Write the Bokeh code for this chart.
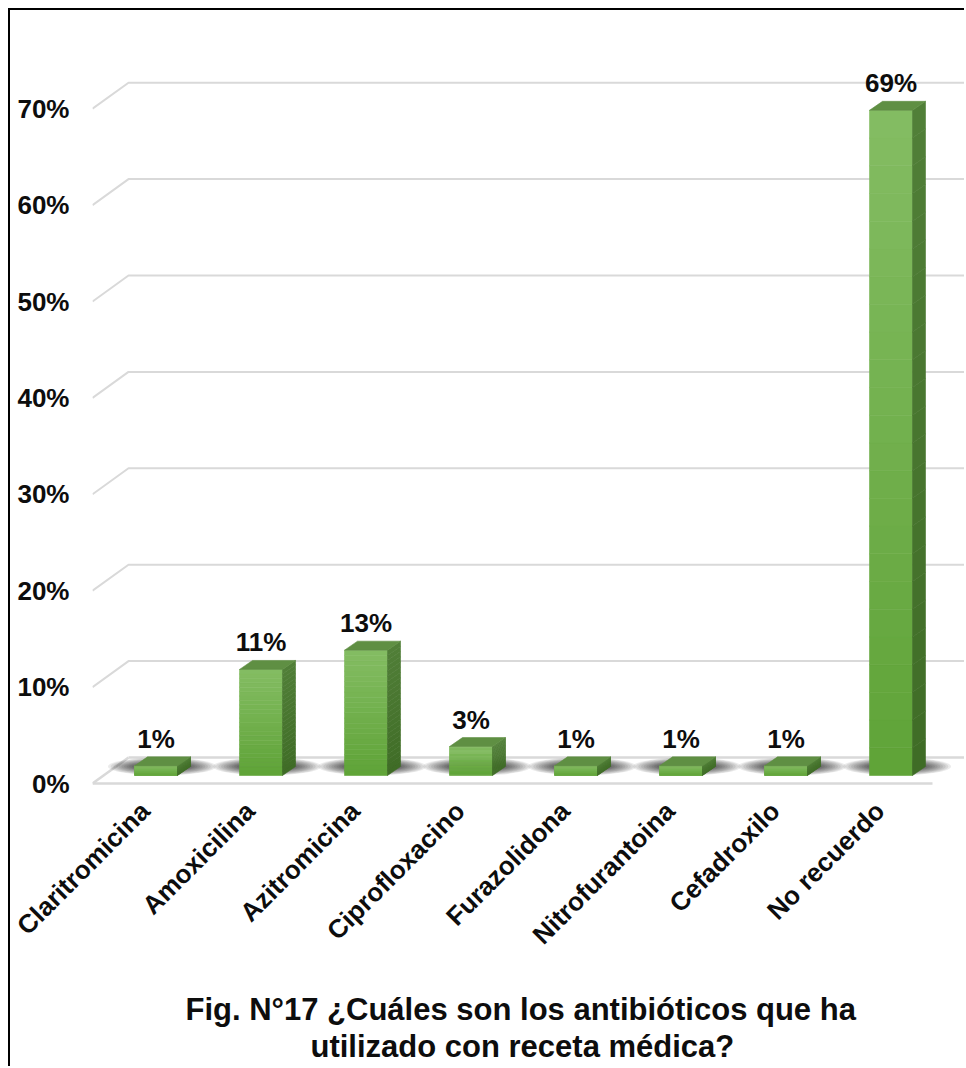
import math
from bokeh.plotting import figure
from bokeh.models import Range1d, FixedTicker, Title, LinearAxis
from bokeh.embed import file_html
from bokeh.resources import INLINE
from bokeh.core.properties import value

# ---------------- data ----------------
categories = ["Claritromicina", "Amoxicilina", "Azitromicina", "Ciprofloxacino",
              "Furazolidona", "Nitrofurantoina", "Cefadroxilo", "No recuerdo"]
percent = [1, 11, 13, 3, 1, 1, 1, 69]
y_ticks = [0, 10, 20, 30, 40, 50, 60, 70]
title_lines = ["Fig. N°17 ¿Cuáles son los antibióticos que ha",
               "utilizado con receta médica?"]

# ---------------- layout constants (pixels) ----------------
W, H = 956, 1058
BORDER_L, BORDER_T, BORDER_B = 82, 10, 278
FRAME_W = W - BORDER_L
FRAME_H = H - BORDER_T - BORDER_B
PX_X = 105.0           # px per category slot
PX_Y = 9.64            # px per percent
ZERO_BELOW = 7.0       # px between frame bottom and front-plane 0 %

x0 = -0.5
x1 = x0 + FRAME_W / PX_X
y0 = -ZERO_BELOW / PX_Y
y1 = y0 + FRAME_H / PX_Y

# 3D offsets converted to data units
BAR_DX, BAR_DY = 11 / PX_X, 8 / PX_Y        # bar plane vs front plane
HALF_W = 21.5 / PX_X                        # half front-face width
DEP_X, DEP_Y = 13 / PX_X, 9 / PX_Y          # bar depth
BACK_X, BACK_Y = 36 / PX_X, 26 / PX_Y       # back wall vs front plane

FONT = "Liberation Sans"
GRID = "#d9d9d9"
TXT = "#0d0d0d"

p = figure(width=W, height=H, output_backend="svg", toolbar_location=None,
           x_range=Range1d(x0, x1), y_range=Range1d(y0, y1),
           min_border_left=BORDER_L, min_border_right=0,
           min_border_top=BORDER_T, min_border_bottom=BORDER_B)
p.outline_line_color = None
p.xgrid.visible = False
p.ygrid.visible = False
p.background_fill_color = "white"
p.border_fill_color = "white"
p.styles = {"margin-left": "8px", "margin-top": "8px",
            "border-left": "2px solid #000", "border-top": "2px solid #000"}

# ---------------- gridlines (3D walls) ----------------
gx, gy = [], []
for t in y_ticks[1:]:
    gx.append([x0, x0 + BACK_X, x1])
    gy.append([t, t + BACK_Y, t + BACK_Y])
p.multi_line(gx, gy, line_color=GRID, line_width=2)

# floor
n = len(categories)
floor_x = [[x0, n - 0.5], [x0, x0 + BACK_X], [x0 + BACK_X, x1]]
floor_y = [[0, 0], [0, BACK_Y], [BACK_Y, BACK_Y]]
p.multi_line(floor_x, floor_y, line_color=GRID, line_width=2.5)

# ---------------- shadows ----------------
xs = [i + BAR_DX for i in range(n)]
sx = [x + 6 / PX_X for x in xs]
sy = [BAR_DY + 9 / PX_Y for _ in xs]
NSH = 12
for k in range(NSH):
    f = k / (NSH - 1)
    w = 108 - 58 * f
    h = 18 - 13 * f
    p.ellipse(x=sx, y=sy, width=w, height=h, width_units="screen",
              height_units="screen", fill_color="black", fill_alpha=0.08, line_color=None)

# ---------------- bars ----------------
def mix(c1, c2, f):
    a = [int(c1[k:k + 2], 16) for k in (1, 3, 5)]
    b = [int(c2[k:k + 2], 16) for k in (1, 3, 5)]
    return "#%02x%02x%02x" % tuple(round(a[j] + (b[j] - a[j]) * f) for j in range(3))

FRONT_TOP, FRONT_BOT = "#84bd63", "#5fa337"
SIDE_TOP, SIDE_BOT = "#517f38", "#3f6c26"
TOP_FACE = "#5f8f43"
NS = 24

fl, fr, fb, ft, fc = [], [], [], [], []
side_x, side_y, side_c = [], [], []
top_x, top_y = [], []
for x, v in zip(xs, percent):
    left, right = x - HALF_W, x + HALF_W
    bot, top = BAR_DY, BAR_DY + v
    for k in range(NS):
        b = bot + (top - bot) * k / NS
        t = bot + (top - bot) * (k + 1) / NS
        f = 1 - (k + 0.5) / NS
        fl.append(left); fr.append(right); fb.append(b); ft.append(t)
        fc.append(mix(FRONT_TOP, FRONT_BOT, f))
        side_x.append([right, right, right + DEP_X, right + DEP_X])
        side_y.append([b, t, t + DEP_Y, b + DEP_Y])
        side_c.append(mix(SIDE_TOP, SIDE_BOT, f))
    top_x.append([left, right, right + DEP_X, left + DEP_X])
    top_y.append([top, top, top + DEP_Y, top + DEP_Y])

p.quad(left=fl, right=fr, bottom=fb, top=ft, fill_color=fc, line_color=fc, line_width=0.6)
p.patches(side_x, side_y, fill_color=side_c, line_color=side_c, line_width=0.6)
p.patches(top_x, top_y, fill_color=TOP_FACE, line_color=TOP_FACE, line_width=0.6)

# ---------------- data labels ----------------
p.text(x=xs, y=[BAR_DY + v for v in percent], text=[f"{v}%" for v in percent],
       y_offset=-27, text_align="center", text_baseline="alphabetic",
       text_font=value(FONT), text_font_style="bold", text_font_size="26px",
       text_color=TXT)

# ---------------- axes ----------------
p.yaxis.ticker = FixedTicker(ticks=y_ticks)
p.yaxis.major_label_overrides = {t: f"{t}%" for t in y_ticks}
p.yaxis.axis_line_color = None
p.yaxis.major_tick_line_color = None
p.yaxis.minor_tick_line_color = None
p.yaxis.major_tick_out = 0
p.yaxis.major_label_standoff = 23
p.yaxis.major_label_text_font = FONT
p.yaxis.major_label_text_font_style = "bold"
p.yaxis.major_label_text_font_size = "26px"
p.yaxis.major_label_text_color = TXT

p.xaxis.ticker = FixedTicker(ticks=list(range(n)))
p.xaxis.major_label_overrides = {i: c for i, c in enumerate(categories)}
p.xaxis.major_label_orientation = math.pi / 4
p.xaxis.axis_line_color = None
p.xaxis.major_tick_line_color = None
p.xaxis.minor_tick_line_color = None
p.xaxis.major_tick_out = 0
p.xaxis.major_label_standoff = 16
p.xaxis.major_label_text_font = FONT
p.xaxis.major_label_text_font_style = "bold"
p.xaxis.major_label_text_font_size = "26px"
p.xaxis.major_label_text_color = TXT

# invisible spacer axis between the category labels and the caption
spacer = LinearAxis(ticker=FixedTicker(ticks=[0]), major_label_overrides={0: ""},
                    axis_line_color=None, major_tick_line_color=None,
                    minor_tick_line_color=None, major_tick_out=26, minor_tick_out=0,
                    major_tick_in=0, minor_tick_in=0, major_label_standoff=0,
                    major_label_text_font_size="1px", major_label_text_color=None)
p.add_layout(spacer, "below")

# ---------------- caption (two lines) ----------------
for line, off in zip(title_lines, [93, 218]):
    p.add_layout(Title(text=line, align="left", offset=off, standoff=0,
                       text_font=FONT, text_font_style="bold",
                       text_font_size="31px", text_color=TXT), "below")

open("out.html", "w").write(file_html(p, INLINE))
